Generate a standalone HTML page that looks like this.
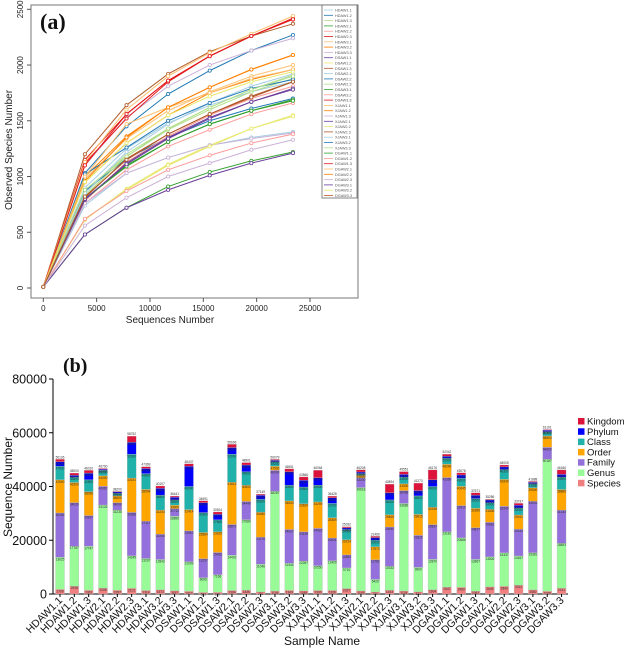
<!DOCTYPE html>
<html><head><meta charset="utf-8"><style>
body{margin:0;background:#fff;}
svg{display:block;font-family:"Liberation Sans",sans-serif;}
</style></head><body>
<svg id="fig" width="625" height="649" xmlns="http://www.w3.org/2000/svg">
<g id="pa"></g>
<g id="pb"></g>
</svg>
<script>
// ---------- Panel (a) data ----------
const seqDepths = [0,3900,7800,11700,15600,19500,23400];
const sampleNames = ["HDAW1.1","HDAW1.2","HDAW1.3","HDAW2.1","HDAW2.2","HDAW2.3","HDAW3.1","HDAW3.2","HDAW3.3",
"DSAW1.1","DSAW1.2","DSAW1.3","DSAW2.1","DSAW2.2","DSAW2.3","DSAW3.1","DSAW3.2","DSAW3.3",
"XJAW1.1","XJAW1.2","XJAW1.3","XJAW2.1","XJAW2.2","XJAW2.3","XJAW3.1","XJAW3.2","XJAW3.3",
"DGAW1.1","DGAW1.2","DGAW1.3","DGAW2.1","DGAW2.2","DGAW2.3","DGAW3.1","DGAW3.2","DGAW3.3"];
const speciesObserved = [
[10,900,1250,1480,1640,1760,1850],[10,1030,1450,1740,1950,2130,2270],[10,850,1200,1430,1620,1780,1910],
[10,480,720,910,1040,1140,1220],[10,760,1060,1270,1420,1560,1660],[10,1150,1560,1860,2080,2260,2410],
[10,980,1340,1590,1760,1900,2000],[10,1000,1360,1620,1800,1960,2090],[10,1100,1530,1810,2000,2130,2240],
[10,480,720,880,1010,1120,1210],[10,610,890,1110,1280,1430,1550],[10,1200,1640,1920,2120,2260,2370],
[10,740,1030,1170,1280,1350,1400],[10,870,1160,1350,1500,1610,1700],[10,830,1180,1420,1600,1760,1880],
[10,800,1100,1310,1470,1590,1690],[10,780,1130,1360,1550,1700,1810],[10,1120,1520,1850,2080,2260,2420],
[10,1130,1600,1900,2110,2280,2440],[10,950,1300,1550,1750,1870,1960],[10,760,1030,1170,1280,1340,1390],
[10,790,1120,1350,1530,1670,1790],[10,620,880,1100,1270,1430,1540],[10,810,1160,1380,1560,1720,1850],
[10,850,1220,1470,1660,1810,1920],[10,1020,1260,1500,1660,1790,1870],[10,880,1180,1430,1620,1780,1900],
[10,800,1090,1310,1470,1590,1680],[10,620,870,1060,1190,1300,1380],[10,1100,1560,1860,2080,2260,2410],
[10,1000,1470,1620,1750,1880,1960],[10,960,1350,1620,1800,1960,2090],[10,560,810,1000,1120,1240,1330],
[10,800,1110,1340,1520,1670,1780],[10,950,1300,1550,1720,1850,1940],[10,820,1150,1380,1560,1710,1850]];
const xTicksA = [0,5000,10000,15000,20000,25000];
const yTicksA = [0,500,1000,1500,2000,2500];
// ---------- Panel (b) data (cumulative tops: Species,Genus,Family,Order,Class,Phylum,Kingdom) ----------
const taxLevels = ["Species","Genus","Family","Order","Class","Phylum","Kingdom"];
const cumSeq = [
[1709,13625,30162,42500,47500,49200,50126],[2928,17787,34026,41500,43500,44200,45000],[1361,17747,29207,38095,42500,45000,46010],
[2208,33126,40067,44000,46000,46400,46700],[1357,31235,34000,36500,37500,38000,38200],[2101,14245,30368,43151,52000,56500,58752],
[1314,13207,27117,38904,44800,46700,47369],[1572,12842,22246,31234,36800,39300,40197],[1197,28895,31712,33000,35000,36000,36441],
[1012,12009,23510,31414,40000,47500,48437],[583,6096,13157,22884,30300,34000,34691],[609,7166,15452,23165,27600,29700,30524],
[1304,14402,25872,41612,52000,54500,55696],[1436,27680,34446,40500,45500,48000,48901],[791,11046,21179,30480,35200,36700,37149],
[1106,38287,46000,47500,49200,49800,50079],[1343,11444,24027,34643,40500,45500,46551],[1188,12267,23139,33620,39800,42300,43566],
[1300,10550,24423,34259,40500,43300,46084],[1326,12400,20831,28369,33700,35800,36428],[2027,9710,14553,20214,24000,24600,25032],
[1149,39618,43200,44200,44800,45400,46208],[760,5420,12782,17570,20000,21000,21469],[1443,10333,24940,29465,35000,37700,40894],
[1134,33686,38488,41000,43500,44500,45551],[831,9900,21825,29615,36500,38500,41273],[1604,12870,25837,32336,40000,42500,46176],
[2547,23181,43350,48246,50500,51300,52042],[2460,20886,32910,40045,43000,44300,45078],[1062,12867,24677,31859,35500,36800,37671],
[2649,13826,26681,31536,34000,35000,35286],[2840,15337,32645,42640,46300,47300,48005],[3312,14167,24144,29411,32000,33000,33737],
[1550,15381,34531,39500,41000,41600,41888],[1008,50187,54600,58800,60400,60900,61191],[2141,18893,31233,38885,43500,44500,46186]];
const yTicksB = [0,20000,40000,60000,80000];

const NS="http://www.w3.org/2000/svg";
function mk(tag,attrs,parent,text){const e=document.createElementNS(NS,tag);for(const k in attrs)e.setAttribute(k,attrs[k]);if(text!==undefined)e.textContent=text;parent.appendChild(e);return e;}

// ---------- Panel (a) ----------
const pa=document.getElementById('pa');
const xA=v=>43.3+v*266.7/25000, yA=v=>288-v*278.7/2500;
const pal=["#A6CEE3","#1F78B4","#B2DF8A","#33A02C","#FB9A99","#E31A1C","#FDBF6F","#FF7F00","#CAB2D6","#6A3D9A","#E8E870","#B15928"];
let frame=mk('rect',{x:31,y:5,width:327,height:293,fill:"none",stroke:"#777","stroke-width":1},pa);


xTicksA.forEach(t=>{
  let l=mk('line',{x1:xA(t),x2:xA(t),y1:298,y2:302,stroke:"#555"},pa);
  
  
  let tx=mk('text',{x:xA(t),y:311,"font-size":8,"text-anchor":"middle",fill:"#222"},pa,String(t));
  
  
});
yTicksA.forEach(t=>{
  let l=mk('line',{x1:27,x2:31,y1:yA(t),y2:yA(t),stroke:"#555"},pa);
  
  
  let tx=mk('text',{x:23,y:yA(t),"font-size":8,"text-anchor":"middle",fill:"#222",transform:`rotate(-90 23 ${yA(t)})`},pa,String(t));
  
  
});
let xt=mk('text',{x:170,y:323,"font-size":10,"text-anchor":"middle",fill:"#222"},pa,"Sequences Number");


let yt=mk('text',{x:12,y:150,"font-size":10,"text-anchor":"middle",fill:"#222",transform:"rotate(-90 12 150)"},pa,"Observed Species Number");


let la=mk('text',{x:40,y:29,"font-size":22,"font-weight":"bold","font-family":"Liberation Serif,serif",fill:"#111"},pa,"(a)");


speciesObserved.forEach((s,i)=>{
  const c=pal[i%12];
  const pts=s.map((v,j)=>xA(seqDepths[j])+","+yA(v)).join(" ");
  let pl=mk('polyline',{points:pts,fill:"none",stroke:c,"stroke-width":1},pa);
  
  
  s.forEach((v,j)=>{
    let m=mk('circle',{cx:xA(seqDepths[j]),cy:yA(v),r:1.6,fill:"#fff",stroke:c,"stroke-width":0.8},pa);
    
    
  });
});
let lgA=mk('rect',{x:322,y:5,width:35,height:193,fill:"#fff",stroke:"#666","stroke-width":0.8},pa);


sampleNames.forEach((n,i)=>{
  const y=10+i*5.3,c=pal[i%12];
  let l=mk('line',{x1:324,x2:333,y1:y,y2:y,stroke:c,"stroke-width":0.8},pa);
  
  
  let t=mk('text',{x:335,y:y+1.5,"font-size":3.8,fill:"#555"},pa,n);
  
  
});

// ---------- Panel (b) ----------
const pb=document.getElementById('pb');
const yB=v=>594-v*215/80000, xB=i=>60+i*14.33;
const tcol=["#F08080","#98FB98","#9370DB","#FFA500","#20B2AA","#0000FF","#DC143C"];
let ax=mk('line',{x1:53,x2:53,y1:379,y2:594,stroke:"#000","stroke-width":1},pb);


let axx=mk('line',{x1:53,x2:568,y1:594,y2:594,stroke:"#000","stroke-width":1},pb);


yTicksB.forEach(t=>{
  let l=mk('line',{x1:49,x2:53,y1:yB(t),y2:yB(t),stroke:"#000"},pb);
  
  
  let tx=mk('text',{x:47,y:yB(t)+4.5,"font-size":12.5,"text-anchor":"end",fill:"#111"},pb,String(t));
  
  
});
cumSeq.forEach((c,i)=>{
  const cx=xB(i);
  let prev=0;
  c.forEach((v,k)=>{
    let r=mk('rect',{x:cx-4.5,y:yB(v),width:9,height:Math.max(0,yB(prev)-yB(v)),fill:tcol[k],stroke:"#bbb","stroke-width":0.3},pb);
    
    
    let t=mk('text',{x:cx,y:yB(v)+(k==6?-1:3),"font-size":3.2,"text-anchor":"middle",fill:"#333"},pb,String(v));
    
    
    prev=v;
  });
  let tk=mk('line',{x1:cx,x2:cx,y1:594,y2:597,stroke:"#000"},pb);
  
  
  let lb=mk('text',{x:cx+3,y:601,"font-size":10.5,"text-anchor":"end",fill:"#111",transform:`rotate(-45 ${cx+3} 601)`},pb,sampleNames[i]);
  
  
});
let xtb=mk('text',{x:322,y:645,"font-size":12,"text-anchor":"middle",fill:"#111"},pb,"Sample Name");


let ytb=mk('text',{x:12,y:487,"font-size":12,"text-anchor":"middle",fill:"#111",transform:"rotate(-90 12 487)"},pb,"Sequence Number");


let lbb=mk('text',{x:63,y:372,"font-size":20,"font-weight":"bold","font-family":"Liberation Serif,serif",fill:"#111"},pb,"(b)");


for(let k=6;k>=0;k--){
  const y=418+(6-k)*10.3;
  let s=mk('rect',{x:578,y:y,width:6.5,height:6.5,fill:tcol[k]},pb);
  
  
  let t=mk('text',{x:587,y:y+6.5,"font-size":9.5,fill:"#111"},pb,taxLevels[k]);
  
  
}
</script>
</body></html>
